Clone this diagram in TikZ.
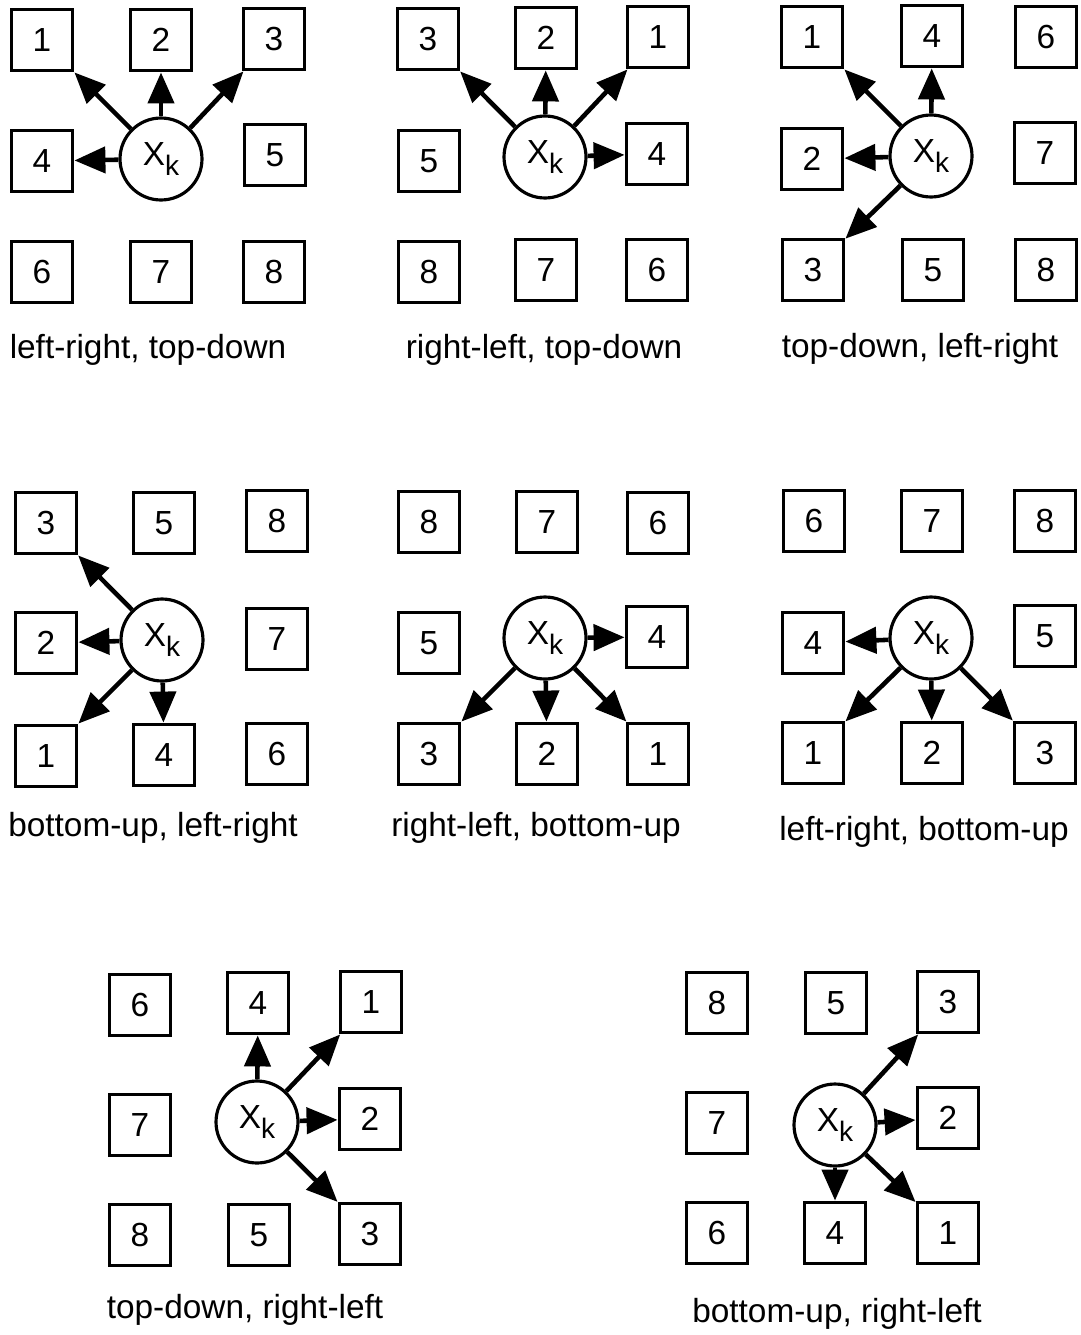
\documentclass[tikz,border=0pt]{standalone}
\usepackage{fontspec}
\setmainfont{Liberation Sans}
\usetikzlibrary{arrows.meta}
\newcommand{\xk}{X\raisebox{-6pt}{\fontsize{16}{16}\selectfont k}}
\begin{document}
\begin{tikzpicture}[x=0.02cm,y=-0.02cm,
  font=\fontsize{19}{22}\selectfont,
  box/.style={draw,line width=2.2pt,minimum size=1.22cm,inner sep=0pt},
  knot/.style={draw,circle,line width=1.8pt,minimum size=1.64cm,inner sep=0pt},
  arr/.style={-{Triangle[length=0.62cm,width=0.52cm]},line width=2.6pt},
  caption/.style={anchor=base}]
  \fill[white] (0,0) rectangle (1080,1335);
  \useasboundingbox (0,0) rectangle (1080,1335);

  % left-right, top-down
  \node[knot] (k1) at (161,159) {\xk};
  \foreach \n/\x/\y in {1/42/40,2/161/40,3/274/39,4/42/161,5/275/155,6/42/272,7/161/272,8/274/272}
    \node[box] (s1-\n) at (\x,\y) {\n};
  \foreach \n in {1,...,4} \draw[arr] (k1) -- (s1-\n);
  \node[caption] (c1) at (148,358) {left-right, top-down};

  % right-left, top-down
  \node[knot] (k2) at (545,157) {\xk};
  \foreach \n/\x/\y in {3/428/39,2/546/38,1/658/37,5/429/161,4/657/154,8/429/272,7/546/270,6/657/270}
    \node[box] (s2-\n) at (\x,\y) {\n};
  \foreach \n in {1,...,4} \draw[arr] (k2) -- (s2-\n);
  \node[caption] (c2) at (544,358) {right-left, top-down};

  % top-down, left-right
  \node[knot] (k3) at (931,156) {\xk};
  \foreach \n/\x/\y in {1/812/37,4/932/36,6/1046/37,2/812/159,7/1045/153,3/813/270,5/933/270,8/1046/270}
    \node[box] (s3-\n) at (\x,\y) {\n};
  \foreach \n in {1,...,4} \draw[arr] (k3) -- (s3-\n);
  \node[caption] (c3) at (920,357) {top-down, left-right};

  % bottom-up, left-right
  \node[knot] (k4) at (162,640) {\xk};
  \foreach \n/\x/\y in {3/46/523,5/164/523,8/277/521,2/46/643,7/277/639,1/46/756,4/164/755,6/277/754}
    \node[box] (s4-\n) at (\x,\y) {\n};
  \foreach \n in {1,...,4} \draw[arr] (k4) -- (s4-\n);
  \node[caption] (c4) at (153,836) {bottom-up, left-right};

  % right-left, bottom-up
  \node[knot] (k5) at (545,638) {\xk};
  \foreach \n/\x/\y in {8/429/522,7/547/522,6/658/523,5/429/643,4/657/637,3/429/754,2/547/754,1/658/754}
    \node[box] (s5-\n) at (\x,\y) {\n};
  \foreach \n in {1,...,4} \draw[arr] (k5) -- (s5-\n);
  \node[caption] (c5) at (536,836) {right-left, bottom-up};

  % left-right, bottom-up
  \node[knot] (k6) at (931,638) {\xk};
  \foreach \n/\x/\y in {6/814/521,7/932/521,8/1045/521,4/813/643,5/1045/636,1/813/753,2/932/753,3/1045/753}
    \node[box] (s6-\n) at (\x,\y) {\n};
  \foreach \n in {1,...,4} \draw[arr] (k6) -- (s6-\n);
  \node[caption] (c6) at (924,840) {left-right, bottom-up};

  % top-down, right-left
  \node[knot] (k7) at (257,1122) {\xk};
  \foreach \n/\x/\y in {6/140/1005,4/258/1003,1/371/1002,7/140/1125,2/370/1119,8/140/1235,5/259/1235,3/370/1234}
    \node[box] (s7-\n) at (\x,\y) {\n};
  \foreach \n in {1,...,4} \draw[arr] (k7) -- (s7-\n);
  \node[caption] (c7) at (245,1318) {top-down, right-left};

  % bottom-up, right-left
  \node[knot] (k8) at (835,1125) {\xk};
  \foreach \n/\x/\y in {8/717/1003,5/836/1003,3/948/1002,7/717/1123,2/948/1118,6/717/1233,4/835/1233,1/948/1233}
    \node[box] (s8-\n) at (\x,\y) {\n};
  \foreach \n in {1,...,4} \draw[arr] (k8) -- (s8-\n);
  \node[caption] (c8) at (837,1322) {bottom-up, right-left};
\end{tikzpicture}
\end{document}
